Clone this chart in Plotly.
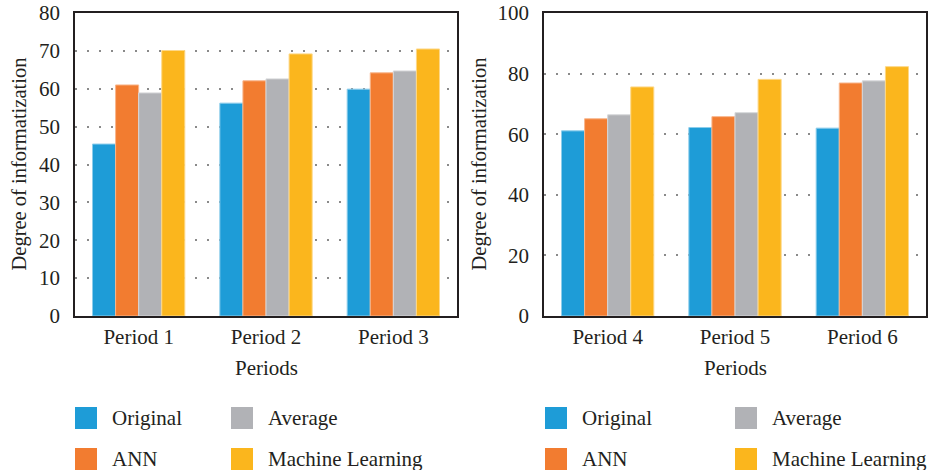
import plotly.graph_objects as go

# Data
periods_a = ["Period 1", "Period 2", "Period 3"]
periods_b = ["Period 4", "Period 5", "Period 6"]
series_names = ["Original", "ANN", "Average", "Machine Learning"]
series_colors = ["#1E9CD7", "#F27C30", "#B1B2B6", "#FBB61D"]
edge_colors = ["#8CCDEB", "#F8B68C", "#D6D7D9", "#FDD888"]

original_a = [45.4, 56.2, 59.9]
ann_a = [61.0, 62.1, 64.2]
average_a = [58.9, 62.6, 64.7]
ml_a = [70.1, 69.2, 70.5]

original_b = [61.1, 62.2, 62.0]
ann_b = [65.1, 65.8, 76.9]
average_b = [66.4, 67.1, 77.6]
ml_b = [75.6, 78.1, 82.3]

yticks_a = [0, 10, 20, 30, 40, 50, 60, 70, 80]
yticks_b = [0, 20, 40, 60, 80, 100]

W, H = 928, 470
FONT = "Liberation Serif, Times New Roman, serif"
TXT = "#231F20"
FS = 21

fig = go.Figure()

for i, (name, vals) in enumerate(zip(series_names, [original_a, ann_a, average_a, ml_a])):
    fig.add_trace(go.Bar(x=periods_a, y=vals, name=name, xaxis="x", yaxis="y",
                         marker=dict(color=series_colors[i],
                                     line=dict(color=edge_colors[i], width=1)),
                         showlegend=False))
for i, (name, vals) in enumerate(zip(series_names, [original_b, ann_b, average_b, ml_b])):
    fig.add_trace(go.Bar(x=periods_b, y=vals, name=name, xaxis="x2", yaxis="y2",
                         marker=dict(color=series_colors[i],
                                     line=dict(color=edge_colors[i], width=1)),
                         showlegend=False))

def px_x(v):
    return v / W

def px_y(v):
    return 1 - v / H

plot_top, plot_bottom = 13, 316
left_a, right_a = 75, 457
left_b, right_b = 544, 926

axis_common = dict(showline=True, linecolor=TXT, linewidth=1.5, mirror=True,
                   automargin=False,
                   tickfont=dict(family=FONT, size=FS, color=TXT))

grid_common = dict(showgrid=True, gridcolor="#8A8A8A", gridwidth=1.5,
                   griddash="2px,10px", zeroline=False)

fig.update_layout(
    width=W, height=H,
    margin=dict(l=0, r=0, t=0, b=0, pad=0, autoexpand=False),
    paper_bgcolor="white", plot_bgcolor="white",
    barmode="group", bargap=0.275, bargroupgap=0,
    font=dict(family=FONT, size=FS, color=TXT),
    xaxis=dict(domain=[px_x(left_a), px_x(right_a)], anchor="y",
               showgrid=False, ticklabelstandoff=1, **axis_common),
    yaxis=dict(domain=[px_y(plot_bottom), px_y(plot_top)], anchor="x",
               range=[0, 80], tickvals=yticks_a, ticklabelstandoff=9,
               **grid_common, **axis_common),
    xaxis2=dict(domain=[px_x(left_b), px_x(right_b)], anchor="y2",
                showgrid=False, ticklabelstandoff=1, **axis_common),
    yaxis2=dict(domain=[px_y(plot_bottom), px_y(plot_top)], anchor="x2",
                range=[0, 100], tickvals=yticks_b, ticklabelstandoff=9,
                **grid_common, **axis_common),
)

annotations = []
shapes = []

# Axis titles
for cx, lx in [((left_a + right_a) / 2, 19), ((left_b + right_b) / 2, 479)]:
    annotations.append(dict(text="Periods", x=px_x(cx), y=px_y(368), xref="paper", yref="paper",
                            showarrow=False, xanchor="center", yanchor="middle",
                            font=dict(family=FONT, size=FS, color=TXT)))
    annotations.append(dict(text="Degree of informatization", x=px_x(lx),
                            y=px_y((plot_top + plot_bottom) / 2), xref="paper", yref="paper",
                            showarrow=False, textangle=-90, xanchor="center", yanchor="middle",
                            font=dict(family=FONT, size=20.5, color=TXT)))

# Legend blocks under each panel
legend_cols = [[75, 231], [545, 735]]
legend_rows = [418, 459]
order = [(0, 0, 0), (2, 1, 0), (1, 0, 1), (3, 1, 1)]  # series, column, row
for cols in legend_cols:
    for s, c, r in order:
        x0 = cols[c]
        yc = legend_rows[r]
        shapes.append(dict(type="rect", xref="paper", yref="paper",
                           x0=px_x(x0), x1=px_x(x0 + 22),
                           y0=px_y(yc + 11), y1=px_y(yc - 11),
                           fillcolor=series_colors[s], line=dict(width=0)))
        annotations.append(dict(text=series_names[s], x=px_x(x0 + 35), y=px_y(yc),
                                xref="paper", yref="paper", showarrow=False,
                                xanchor="left", yanchor="middle",
                                font=dict(family=FONT, size=FS, color=TXT)))

fig.update_layout(annotations=annotations, shapes=shapes)

fig.write_html("out.html")
